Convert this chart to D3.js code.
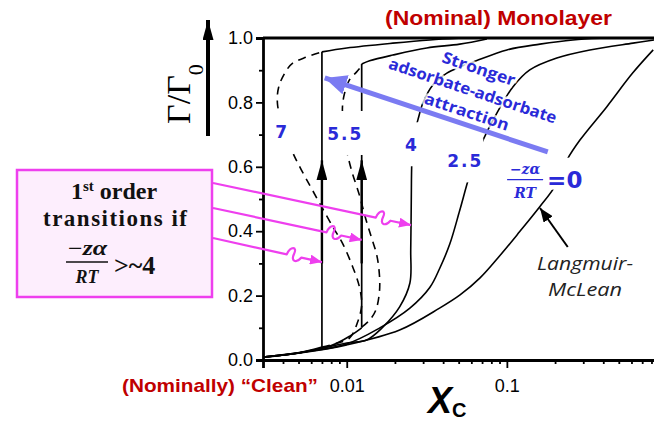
<!DOCTYPE html>
<html>
<head>
<meta charset="utf-8">
<script src="https://cdn.jsdelivr.net/npm/d3@7"></script>
<style>
  body { margin: 0; background: #fff; }
  svg { display: block; }
</style>
</head>
<body>
<div id="chart"></div>
<script>
// Axis ticks
const xMajorTicks = [0.01, 0.1];
const xMajorLabels = ["0.01", "0.1"];
const xMinorTicks = [0.004, 0.005, 0.006, 0.007, 0.008, 0.009,
                     0.02, 0.03, 0.04, 0.05, 0.06, 0.07, 0.08, 0.09,
                     0.2, 0.3, 0.4, 0.5, 0.6, 0.7, 0.8];
const yMajorTicks = [0, 0.2, 0.4, 0.6, 0.8, 1.0];
const yMinorTicks = [0.1, 0.3, 0.5, 0.7, 0.9];

// Isotherms [x_C, Gamma/Gamma0]
// -z alpha / RT = 0 (Langmuir-McLean)
const curveA0 = [[0.003, 0.009], [0.0051, 0.022], [0.01, 0.047], [0.0214, 0.093], [0.038, 0.161],
  [0.051, 0.202], [0.068, 0.255], [0.09, 0.323], [0.12, 0.398], [0.16, 0.475], [0.2, 0.54],
  [0.237, 0.621], [0.286, 0.683], [0.42, 0.786], [0.61, 0.891], [0.82, 0.963]];
// 2.5
const curveA25 = [[0.003, 0.009], [0.0051, 0.023], [0.01, 0.05], [0.016, 0.099], [0.0248, 0.161],
  [0.033, 0.225], [0.0381, 0.285], [0.044, 0.36], [0.0508, 0.465], [0.0587, 0.575], [0.0678, 0.66],
  [0.076, 0.714], [0.0866, 0.767], [0.109, 0.848], [0.139, 0.901], [0.205, 0.938], [0.33, 0.963],
  [0.613, 0.984], [0.84, 0.994]];
// 4
const curveA4 = [[0.003, 0.009], [0.0051, 0.023], [0.01, 0.053], [0.0133, 0.062], [0.0168, 0.102],
  [0.0214, 0.165], [0.0248, 0.239], [0.0251, 0.342], [0.0253, 0.497], [0.0255, 0.615], [0.0262, 0.699],
  [0.0278, 0.745], [0.0299, 0.798], [0.0345, 0.854], [0.0422, 0.891], [0.0508, 0.91], [0.0613, 0.925],
  [0.1, 0.963], [0.161, 0.981], [0.2585, 0.994], [0.38, 0.999]];
// 5.5 : stable branches, loop (dashed) and tie line
const curveA55Low = [[0.003, 0.009], [0.005, 0.022], [0.008, 0.045], [0.0105, 0.075], [0.0124, 0.1]];
const curveA55High = [[0.0124, 0.919], [0.0139, 0.929], [0.0194, 0.947], [0.0316, 0.969],
  [0.0508, 0.981], [0.075, 0.997]];
const loopA55 = [[0.0124, 0.102], [0.0139, 0.124], [0.0152, 0.155], [0.016, 0.211], [0.016, 0.264],
  [0.0154, 0.326], [0.0143, 0.379], [0.0131, 0.441], [0.012, 0.512], [0.0107, 0.59], [0.01, 0.652],
  [0.0096, 0.72], [0.0094, 0.783], [0.0097, 0.829], [0.0104, 0.87], [0.0115, 0.894], [0.0124, 0.913]];
// 7
const curveA7Low = [[0.003, 0.008], [0.005, 0.022], [0.007, 0.04]];
const curveA7High = [[0.007, 0.957], [0.01, 0.969], [0.0194, 0.984], [0.033, 0.994], [0.05, 0.999]];
const loopA7 = [[0.007, 0.04], [0.0084, 0.05], [0.0104, 0.068], [0.0117, 0.118], [0.0124, 0.171],
  [0.012, 0.227], [0.0109, 0.289], [0.0094, 0.363], [0.0082, 0.413], [0.0061, 0.528], [0.0051, 0.599],
  [0.00453, 0.652], [0.004, 0.73], [0.0037, 0.792], [0.00376, 0.848], [0.00422, 0.901],
  [0.0046, 0.922], [0.00562, 0.941], [0.007, 0.957]];

// first order transitions (vertical tie lines)
const tieX = [0.007, 0.0124];
const tieLow = [0.04, 0.1];
const tieHigh = [0.957, 0.919];

// curve labels
const curveLabels = ["7", "5.5", "4", "2.5"];
const curveLabelX = [0.0039, 0.0098, 0.0252, 0.055];
const curveLabelY = [0.71, 0.705, 0.67, 0.62];

const width = 654, height = 425;
const blue = "#2a2ad8", red = "#c00000", magenta = "#ee3fee";

const svg = d3.select("#chart").append("svg")
  .attr("width", width)
  .attr("height", height);

const defs = svg.append("defs");
function marker(id, color, w, h) {
  defs.append("marker")
    .attr("id", id)
    .attr("viewBox", `0 0 ${w} ${h}`)
    .attr("refX", w).attr("refY", h / 2)
    .attr("markerWidth", w).attr("markerHeight", h)
    .attr("markerUnits", "userSpaceOnUse")
    .attr("orient", "auto")
    .append("path")
    .attr("d", `M0,0L${w},${h / 2}L0,${h}Z`)
    .attr("fill", color);
}
marker("headBlack", "#000", 20, 11);
marker("headMag", magenta, 12, 10);
marker("headSmall", "#000", 14, 11);
marker("headBlue", "#7b7bf2", 22, 20);

const x = d3.scaleLog().domain([0.003, 1]).range([263, 667]);
const y = d3.scaleLinear().domain([0, 1]).range([360, 38]);

const line = d3.line()
  .x(d => x(d[0]))
  .y(d => y(d[1]))
  .curve(d3.curveCatmullRom.alpha(0.5));

const plot = svg.append("g");

// solid isotherms
[curveA0, curveA25, curveA4, curveA55Low, curveA55High, curveA7Low, curveA7High].forEach(c => {
  plot.append("path")
    .attr("d", line(c))
    .attr("fill", "none")
    .attr("stroke", "#000")
    .attr("stroke-width", 1.6);
});

// unstable loops
[loopA7, loopA55].forEach(c => {
  plot.append("path")
    .attr("d", line(c))
    .attr("fill", "none")
    .attr("stroke", "#000")
    .attr("stroke-width", 1.6)
    .attr("stroke-dasharray", "8,6");
});

// tie lines
tieX.forEach((t, i) => {
  plot.append("line")
    .attr("x1", x(t)).attr("x2", x(t))
    .attr("y1", y(tieLow[i])).attr("y2", y(tieHigh[i]))
    .attr("stroke", "#000")
    .attr("stroke-width", 1.7);
  plot.append("line")
    .attr("x1", x(t)).attr("x2", x(t))
    .attr("y1", y(0.3)).attr("y2", y(0.62))
    .attr("stroke", "#000")
    .attr("stroke-width", 2.4)
    .attr("marker-end", "url(#headBlack)");
});

// label backgrounds hide the curves behind them
const labelG = svg.append("g");
curveLabels.forEach((t, i) => {
  const cx = x(curveLabelX[i]), cy = y(curveLabelY[i]);
  const w = t.length > 1 ? 36 : 22;
  labelG.append("rect")
    .attr("x", cx - w / 2).attr("y", cy - 22)
    .attr("width", w).attr("height", 44)
    .attr("fill", "#fff");
  labelG.append("text")
    .attr("x", cx).attr("y", cy + 7)
    .attr("text-anchor", "middle")
    .attr("font-family", "DejaVu Sans, sans-serif")
    .attr("font-weight", "bold")
    .attr("font-size", 17)
    .attr("letter-spacing", t.length > 1 ? 2 : 0)
    .attr("fill", blue)
    .text(t);
});

// -z alpha / RT = 0 label
const fx = x(0.13), fy = y(0.56);
labelG.append("rect").attr("x", fx - 22).attr("y", fy - 22).attr("width", 80).attr("height", 32).attr("fill", "#fff");
labelG.append("text").attr("x", fx).attr("y", fy - 6)
  .attr("text-anchor", "middle").attr("font-family", "DejaVu Serif, serif")
  .attr("font-style", "italic").attr("font-weight", "bold").attr("font-size", 14).attr("fill", blue)
  .text("−zα");
labelG.append("line").attr("x1", fx - 18).attr("x2", fx + 18).attr("y1", fy).attr("y2", fy)
  .attr("stroke", blue).attr("stroke-width", 1.2);
labelG.append("text").attr("x", fx).attr("y", fy + 18)
  .attr("text-anchor", "middle").attr("font-family", "DejaVu Serif, serif")
  .attr("font-style", "italic").attr("font-weight", "bold").attr("font-size", 14).attr("fill", blue)
  .text("RT");
labelG.append("text").attr("x", fx + 22).attr("y", fy + 8)
  .attr("font-family", "DejaVu Sans, sans-serif").attr("font-weight", "bold")
  .attr("font-size", 23).attr("fill", blue)
  .text("=0");

// axes
const xAxis = svg.append("g").attr("transform", `translate(0,${y(0)})`)
  .call(d3.axisBottom(x).tickValues(xMajorTicks).tickSize(8).tickPadding(11)
    .tickFormat((d, i) => xMajorLabels[i]));
const xMinor = svg.append("g").attr("transform", `translate(0,${y(0)})`)
  .call(d3.axisBottom(x).tickValues(xMinorTicks).tickSize(4).tickFormat(""));
const yAxis = svg.append("g").attr("transform", `translate(${x(0.003)},0)`)
  .call(d3.axisLeft(y).tickValues(yMajorTicks).tickSize(7).tickPadding(3)
    .tickFormat(d3.format(".1f")));
const yMinor = svg.append("g").attr("transform", `translate(${x(0.003)},0)`)
  .call(d3.axisLeft(y).tickValues(yMinorTicks).tickSize(4).tickFormat(""));

[xAxis, xMinor, yAxis, yMinor].forEach(a => {
  a.select(".domain").attr("stroke-width", 2.8).attr("stroke", "#000");
  a.selectAll(".tick line").attr("stroke-width", 1.8).attr("stroke", "#000");
  a.selectAll(".tick text").attr("font-family", "Liberation Sans, Arial, sans-serif")
    .attr("font-size", 18).attr("fill", "#000");
});
xMinor.select(".domain").remove();
yMinor.select(".domain").remove();

// top frame line
svg.append("line")
  .attr("x1", x(0.003)).attr("x2", width)
  .attr("y1", y(1)).attr("y2", y(1))
  .attr("stroke", "#000").attr("stroke-width", 2.8);

// axis titles
const yt = svg.append("text")
  .attr("transform", "translate(190,94) rotate(-90)")
  .attr("text-anchor", "middle")
  .attr("font-family", "Liberation Serif, serif")
  .attr("font-size", 34)
  .attr("fill", "#000");
yt.append("tspan").text("Γ/Γ");
yt.append("tspan").attr("baseline-shift", "sub").attr("font-size", 22).text("0");

svg.append("line")
  .attr("x1", 208).attr("x2", 208)
  .attr("y1", 136).attr("y2", 20)
  .attr("stroke", "#000").attr("stroke-width", 4)
  .attr("marker-end", "url(#headBlack)");

const xt = svg.append("text")
  .attr("x", 428).attr("y", 413)
  .attr("font-family", "Liberation Sans, Arial, sans-serif")
  .attr("font-weight", "bold").attr("font-style", "italic")
  .attr("fill", "#000");
xt.append("tspan").attr("font-size", 36).text("X");
xt.append("tspan").attr("font-size", 20).attr("font-style", "normal").attr("dy", 4).text("C");

// red notes
svg.append("text").attr("x", 385).attr("y", 25)
  .attr("font-family", "Liberation Sans, Arial, sans-serif").attr("font-weight", "bold")
  .attr("font-size", 20).attr("fill", red)
  .attr("textLength", 227).attr("lengthAdjust", "spacingAndGlyphs")
  .text("(Nominal)  Monolayer");
svg.append("text").attr("x", 122).attr("y", 392)
  .attr("font-family", "Liberation Sans, Arial, sans-serif").attr("font-weight", "bold")
  .attr("font-size", 19).attr("fill", red)
  .attr("textLength", 196).attr("lengthAdjust", "spacingAndGlyphs")
  .text("(Nominally)  “Clean”");

// Langmuir-McLean note
svg.append("line")
  .attr("x1", x(0.24)).attr("y1", y(0.351))
  .attr("x2", x(0.161)).attr("y2", y(0.472))
  .attr("stroke", "#000").attr("stroke-width", 2)
  .attr("marker-end", "url(#headSmall)");
const noteText = ["Langmuir-", "McLean"];
const noteLen = [96, 74];
noteText.forEach((t, i) => {
  svg.append("text").attr("x", 585).attr("y", 270 + i * 26).attr("text-anchor", "middle")
    .attr("font-family", "Open Sans, sans-serif").attr("font-style", "italic")
    .attr("font-size", 18).attr("fill", "#222")
    .attr("textLength", noteLen[i]).attr("lengthAdjust", "spacingAndGlyphs")
    .text(t);
});

// blue arrow: stronger attraction
const bx1 = x(0.18), by1 = y(0.646), bx2 = x(0.00729), by2 = y(0.876);
svg.append("line")
  .attr("x1", bx1).attr("y1", by1).attr("x2", bx2).attr("y2", by2)
  .attr("stroke", "#7b7bf2").attr("stroke-width", 5)
  .attr("marker-end", "url(#headBlue)");
const ang = Math.atan2(by1 - by2, bx1 - bx2) * 180 / Math.PI;
const attractLines = ["Stronger", "adsorbate-adsorbate", "attraction"];
const attractPos = [[477, 74], [471, 96], [465, 117]];
const attractLen = [76, 176, 88];
attractLines.forEach((t, i) => {
  svg.append("text")
    .attr("transform", `translate(${attractPos[i][0]},${attractPos[i][1]}) rotate(${ang})`)
    .attr("text-anchor", "middle")
    .attr("font-family", "Open Sans, sans-serif").attr("font-weight", "bold")
    .attr("font-size", 16).attr("fill", blue)
    .attr("textLength", attractLen[i]).attr("lengthAdjust", "spacingAndGlyphs")
    .attr("stroke", "rgba(255,255,255,0.75)").attr("stroke-width", 5)
    .attr("paint-order", "stroke")
    .text(t);
});

// magenta box
svg.append("rect")
  .attr("x", 17).attr("y", 170).attr("width", 195).attr("height", 127)
  .attr("fill", "#fdeefd").attr("stroke", magenta).attr("stroke-width", 2.5);
const t1 = svg.append("text").attr("x", 114).attr("y", 199).attr("text-anchor", "middle")
  .attr("font-family", "Liberation Serif, serif").attr("font-weight", "bold")
  .attr("font-size", 24).attr("fill", "#111");
t1.append("tspan").text("1");
t1.append("tspan").attr("baseline-shift", "super").attr("font-size", 15).text("st");
t1.append("tspan").text(" order");
svg.append("text").attr("x", 115).attr("y", 226).attr("text-anchor", "middle")
  .attr("font-family", "Liberation Serif, serif").attr("font-weight", "bold")
  .attr("font-size", 23).attr("fill", "#111")
  .attr("textLength", 144).attr("lengthAdjust", "spacing")
  .text("transitions if");
svg.append("text").attr("x", 87).attr("y", 255).attr("text-anchor", "middle")
  .attr("font-family", "Liberation Serif, serif").attr("font-style", "italic").attr("font-weight", "bold")
  .attr("font-size", 20).attr("fill", "#111")
  .attr("textLength", 40).attr("lengthAdjust", "spacingAndGlyphs")
  .text("−zα");
svg.append("line").attr("x1", 66).attr("x2", 108).attr("y1", 262).attr("y2", 262)
  .attr("stroke", "#111").attr("stroke-width", 1.3);
svg.append("text").attr("x", 87).attr("y", 283).attr("text-anchor", "middle")
  .attr("font-family", "Liberation Serif, serif").attr("font-style", "italic").attr("font-weight", "bold")
  .attr("font-size", 18).attr("fill", "#111").text("RT");
svg.append("text").attr("x", 114).attr("y", 274)
  .attr("font-family", "Liberation Serif, serif").attr("font-weight", "bold")
  .attr("font-size", 26).attr("fill", "#111").text(">~4");

// magenta squiggly arrows to the transitions
const arrowStarts = [[213, 183], [213, 208], [213, 238]];
const arrowEnds = [[0.0252, 0.419], [0.0124, 0.373], [0.007, 0.304]];
arrowStarts.forEach((s, i) => {
  const ex = x(arrowEnds[i][0]), ey = y(arrowEnds[i][1]);
  const dx = ex - s[0], dy = ey - s[1], L = Math.hypot(dx, dy);
  const ux = dx / L, uy = dy / L, nx = uy, ny = -ux;
  const px = ex - ux * 36, py = ey - uy * 36;
  const P = (a, b) => `${px + ux * a + nx * b},${py + uy * a + ny * b}`;
  const d = `M${s[0]},${s[1]}L${px},${py}C${P(2, 9)} ${P(9, 10)} ${P(7, 2)}` +
            `C${P(5, -6)} ${P(11, -7)} ${P(15, 0)}L${ex},${ey}`;
  svg.append("path")
    .attr("d", d)
    .attr("fill", "none")
    .attr("stroke", magenta).attr("stroke-width", 2.2)
    .attr("stroke-linejoin", "round")
    .attr("marker-end", "url(#headMag)");
});
</script>
</body>
</html>
